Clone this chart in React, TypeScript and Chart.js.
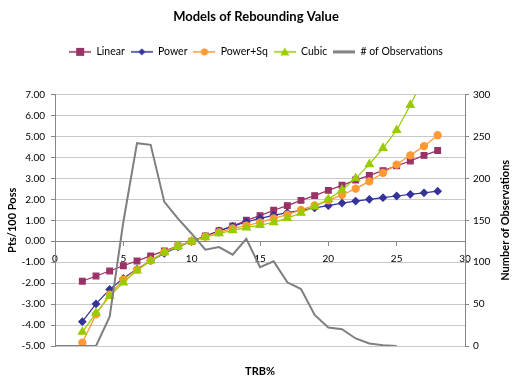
import React, { useEffect, useRef } from 'react';
import { Chart, registerables } from 'chart.js';

Chart.register(...registerables);

const modelX = [2, 3, 4, 5, 6, 7, 8, 9, 10, 11, 12, 13, 14, 15, 16, 17, 18, 19, 20, 21, 22, 23, 24, 25, 26, 27, 28];
const linearValues = [-1.91, -1.66, -1.42, -1.17, -0.94, -0.70, -0.46, -0.23, 0, 0.25, 0.50, 0.73, 1.00, 1.22, 1.48, 1.70, 1.95, 2.18, 2.43, 2.67, 2.92, 3.14, 3.37, 3.60, 3.83, 4.10, 4.33];
const powerValues = [-3.84, -2.99, -2.30, -1.77, -1.32, -0.93, -0.58, -0.27, 0, 0.25, 0.49, 0.71, 0.92, 1.09, 1.24, 1.37, 1.48, 1.59, 1.70, 1.82, 1.92, 2.00, 2.08, 2.16, 2.24, 2.31, 2.39];
const powerSqValues = [-4.84, -3.49, -2.55, -1.83, -1.35, -0.92, -0.52, -0.23, 0, 0.22, 0.42, 0.61, 0.75, 0.90, 1.09, 1.27, 1.50, 1.71, 1.95, 2.21, 2.51, 2.86, 3.26, 3.66, 4.10, 4.54, 5.06];
const cubicValues = [-4.33, -3.43, -2.62, -1.97, -1.40, -0.93, -0.53, -0.23, 0, 0.18, 0.37, 0.52, 0.65, 0.77, 0.90, 1.10, 1.35, 1.65, 2.00, 2.45, 3.00, 3.67, 4.45, 5.30, 6.50, 7.80, 9.20];
const obsX = [0, 1, 2, 3, 4, 5, 6, 7, 8, 9, 10, 11, 12, 13, 14, 15, 16, 17, 18, 19, 20, 21, 22, 23, 24, 25];
const observations = [0, 0, 0, 0, 35, 148, 242, 240, 172, 152, 134, 115, 118, 109, 128, 94, 101, 76, 68, 37, 22, 20, 9, 3, 1, 0];

const seriesNames = ['Linear', 'Power', 'Power+Sq', 'Cubic', '# of Observations'];
const seriesColors = ['#993366', '#333399', '#FF9933', '#99CC00', '#7F7F7F'];
const seriesMarkers = ['rect', 'rectRot', 'circle', 'triangle', 'none'];

const chartTitle = 'Models of Rebounding Value';
const xTitle = 'TRB%';
const yTitle = 'Pts/100 Poss';
const y1Title = 'Number of Observations';

const FONT = 'Lato, "Open Sans", sans-serif';

function toPoints(xs: number[], ys: number[]) {
  return xs.map((x, i) => ({ x, y: ys[i] }));
}

function drawMarker(ctx: CanvasRenderingContext2D, kind: string, cx: number, cy: number, r: number, color: string) {
  ctx.fillStyle = color;
  ctx.strokeStyle = color;
  ctx.beginPath();
  if (kind === 'rect') {
    ctx.rect(cx - r, cy - r, 2 * r, 2 * r);
  } else if (kind === 'rectRot') {
    ctx.moveTo(cx, cy - r);
    ctx.lineTo(cx + r, cy);
    ctx.lineTo(cx, cy + r);
    ctx.lineTo(cx - r, cy);
    ctx.closePath();
  } else if (kind === 'circle') {
    ctx.arc(cx, cy, r, 0, Math.PI * 2);
  } else if (kind === 'triangle') {
    ctx.moveTo(cx, cy - r);
    ctx.lineTo(cx + r, cy + r * 0.8);
    ctx.lineTo(cx - r, cy + r * 0.8);
    ctx.closePath();
  }
  ctx.fill();
}

function legendIcon(i: number): HTMLCanvasElement {
  const c = document.createElement('canvas');
  c.width = 22;
  c.height = 12;
  const ctx = c.getContext('2d') as CanvasRenderingContext2D;
  ctx.strokeStyle = seriesColors[i];
  ctx.lineWidth = seriesMarkers[i] === 'none' ? 3 : 1.5;
  ctx.beginPath();
  ctx.moveTo(0, 6);
  ctx.lineTo(22, 6);
  ctx.stroke();
  const radii = [4, 3.5, 3.5, 4.5, 0];
  if (seriesMarkers[i] !== 'none') drawMarker(ctx, seriesMarkers[i], 11, 6, radii[i], seriesColors[i]);
  return c;
}

const rightTitlePlugin = {
  id: 'rightTitle',
  afterDraw(chart: any) {
    const { ctx, chartArea } = chart;
    ctx.save();
    ctx.translate(505, (chartArea.top + chartArea.bottom) / 2);
    ctx.rotate(-Math.PI / 2);
    ctx.textAlign = 'center';
    ctx.textBaseline = 'middle';
    ctx.fillStyle = '#000';
    ctx.font = `bold 11px ${FONT}`;
    ctx.fillText(y1Title, 0, 0);
    ctx.restore();
  },
};

export default function App() {
  const ref = useRef<HTMLCanvasElement | null>(null);

  useEffect(() => {
    if (!ref.current) return;
    const icons = seriesNames.map((_, i) => legendIcon(i));
    const chart = new Chart(ref.current, {
      type: 'line',
      data: {
        datasets: [
          {
            label: seriesNames[0],
            data: toPoints(modelX, linearValues),
            borderColor: seriesColors[0],
            backgroundColor: seriesColors[0],
            borderWidth: 1.25,
            pointStyle: 'rect',
            pointRadius: 4,
            xAxisID: 'x',
            yAxisID: 'y',
            order: 5,
          },
          {
            label: seriesNames[1],
            data: toPoints(modelX, powerValues),
            borderColor: seriesColors[1],
            backgroundColor: seriesColors[1],
            borderWidth: 1.25,
            pointStyle: 'rectRot',
            pointRadius: 3.5,
            xAxisID: 'x',
            yAxisID: 'y',
            order: 4,
          },
          {
            label: seriesNames[2],
            data: toPoints(modelX, powerSqValues),
            borderColor: seriesColors[2],
            backgroundColor: seriesColors[2],
            borderWidth: 1.25,
            pointStyle: 'circle',
            pointRadius: 3.5,
            xAxisID: 'x',
            yAxisID: 'y',
            order: 3,
          },
          {
            label: seriesNames[3],
            data: toPoints(modelX, cubicValues),
            borderColor: seriesColors[3],
            backgroundColor: seriesColors[3],
            borderWidth: 1.25,
            pointStyle: 'triangle',
            pointRadius: 4.5,
            xAxisID: 'x',
            yAxisID: 'y',
            order: 2,
          },
          {
            label: seriesNames[4],
            data: toPoints(obsX, observations),
            borderColor: seriesColors[4],
            backgroundColor: seriesColors[4],
            borderWidth: 2,
            pointRadius: 0,
            xAxisID: 'x',
            yAxisID: 'y1',
            order: 1,
          },
        ],
      },
      options: {
        animation: false,
        responsive: true,
        maintainAspectRatio: false,
        layout: { padding: 0 },
        font: { family: FONT },
        plugins: {
          title: {
            display: true,
            text: chartTitle,
            color: '#000',
            font: { size: 13, weight: 'bold', family: FONT },
            padding: { top: 9, bottom: 16 },
          },
          subtitle: {
            display: true,
            text: '',
            font: { size: 1, lineHeight: 1 },
            padding: { top: 0, bottom: 26.5 },
          },
          legend: {
            display: true,
            position: 'top',
            weight: 1800,
            labels: {
              usePointStyle: true,
              pointStyleWidth: 22,
              padding: 6,
              color: '#000',
              font: { size: 10.5, family: FONT },
              generateLabels: (ch: any) => {
                const items = Chart.defaults.plugins.legend.labels.generateLabels(ch);
                items.sort((a: any, b: any) => a.datasetIndex - b.datasetIndex);
                return items.map((it: any) => ({ ...it, pointStyle: icons[it.datasetIndex] }));
              },
            },
          },
          tooltip: { enabled: false },
        },
        scales: {
          x: {
            type: 'linear',
            axis: 'x',
            position: { y: 0 } as any,
            min: 0,
            max: 30,
            ticks: { stepSize: 5, padding: 8, color: '#000', font: { size: 10, family: FONT } },
            grid: { drawOnChartArea: false, tickLength: 4, color: '#868686' },
            border: { color: '#868686' },
          },
          xb: {
            type: 'linear',
            axis: 'x',
            position: 'bottom',
            ticks: { display: false },
            grid: { display: false, drawTicks: false },
            border: { display: false },
            title: {
              display: true,
              text: xTitle,
              color: '#000',
              font: { size: 11, weight: 'bold', family: FONT },
              padding: { top: 19.3, bottom: -1.5 },
            },
          },
          y: {
            type: 'linear',
            position: 'left',
            min: -5,
            max: 7,
            ticks: {
              stepSize: 1,
              padding: 6,
              color: '#000',
              font: { size: 10, family: FONT },
              callback: (v: any) => Number(v).toFixed(2),
            },
            grid: { color: '#C8C8C8', tickLength: 4, tickColor: '#868686' },
            border: { color: '#868686' },
            title: {
              display: true,
              text: yTitle,
              color: '#000',
              font: { size: 11, weight: 'bold', family: FONT },
              padding: { top: 6, bottom: 0 },
            },
            afterFit: (s: any) => {
              s.width = 55;
            },
          },
          y1: {
            type: 'linear',
            position: 'right',
            min: 0,
            max: 300,
            ticks: { stepSize: 50, padding: 4, color: '#000', font: { size: 10, family: FONT } },
            grid: { drawOnChartArea: false, tickLength: 4, color: '#868686' },
            border: { color: '#868686' },
            afterFit: (s: any) => {
              s.width = 47;
            },
          },
        },
      },
      plugins: [rightTitlePlugin],
    });
    return () => chart.destroy();
  }, []);

  return (
    <div style={{ position: 'fixed', left: 0, top: 0, width: 512, height: 377, background: '#fff' }}>
      <canvas ref={ref} />
    </div>
  );
}
